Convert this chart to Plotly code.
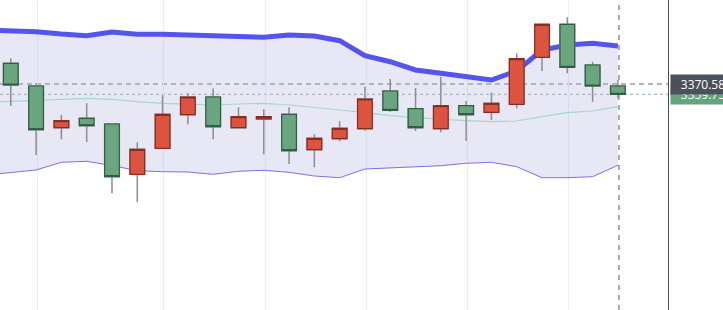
import plotly.graph_objects as go

# ---- data ----
idx = list(range(0, 25))
open_ = [3392.32, 3368.48, 3324.70, 3334.57, 3328.58, 3275.77, 3303.07, 3338.35, 3356.93, 3324.70,
         3333.83, 3338.77, 3301.60, 3313.15, 3323.65, 3363.23, 3344.65, 3323.65, 3347.80, 3340.87,
         3349.27, 3398.62, 3433.27, 3390.53, 3368.48]
high = [3397.57, 3371.32, 3338.03, 3350.32, 3329.00, 3309.37, 3358.72, 3360.82, 3366.07, 3346.12,
        3344.02, 3346.12, 3317.77, 3331.73, 3367.75, 3375.83, 3366.38, 3378.25, 3352.73, 3361.45,
        3402.82, 3434.32, 3440.62, 3394.00, 3374.78]
low = [3347.48, 3296.03, 3312.52, 3309.68, 3255.82, 3246.37, 3302.80, 3328.27, 3312.52, 3324.50,
       3296.77, 3286.58, 3283.12, 3310.42, 3321.55, 3341.50, 3321.23, 3319.87, 3310.73, 3332.78,
       3345.07, 3384.23, 3381.82, 3352.00, 3355.57]
close = [3369.53, 3322.60, 3332.05, 3326.80, 3273.25, 3302.02, 3338.77, 3356.93, 3325.75, 3336.25,
         3336.25, 3300.55, 3313.57, 3324.07, 3354.83, 3342.97, 3324.70, 3347.80, 3338.35, 3350.32,
         3397.15, 3433.27, 3388.12, 3368.48, 3359.75]

band_idx = list(range(-1, 25))
upper = [3427.28, 3426.76, 3425.50, 3423.08, 3421.30, 3425.18, 3422.77, 3422.77, 3421.72, 3420.67,
         3420.67, 3419.62, 3422.03, 3420.98, 3416.05, 3400.30, 3394.00, 3385.28, 3381.82, 3378.25,
         3374.78, 3384.23, 3406.28, 3411.53, 3413.32, 3410.48]
middle = [3351.16, 3352.42, 3353.78, 3354.83, 3355.57, 3354.52, 3352.00, 3350.32, 3349.27, 3348.53,
          3349.58, 3350.32, 3348.53, 3346.12, 3343.28, 3340.45, 3337.30, 3335.20, 3333.52, 3332.05,
          3331.00, 3331.73, 3336.25, 3340.45, 3342.23, 3346.75]
lower = [3275.03, 3277.66, 3280.28, 3288.37, 3289.42, 3285.01, 3279.55, 3278.50, 3278.18, 3275.77,
         3278.92, 3279.97, 3277.87, 3273.98, 3272.20, 3281.33, 3282.38, 3283.43, 3284.80, 3287.32,
         3288.37, 3283.75, 3272.20, 3272.20, 3273.25, 3285.22]

grid_idx = [1.05, 6.05, 10.05, 14.05, 18.05, 22.05]
cross_idx = 24.04
cross_price = 3370.58
last_price = 3359.75
cross_label = "3370.58"
last_label = "3359.75"

x_range = [-0.427, 25.98]
y_range = [3133.28, 3458.78]

# ---- figure ----
fig = go.Figure()

# Bollinger bands (base axes, drawn beneath candles)
fig.add_trace(go.Scatter(x=band_idx, y=lower, mode="lines",
                         line=dict(color="#7474ea", width=1), hoverinfo="skip",
                         xaxis="x", yaxis="y"))
fig.add_trace(go.Scatter(x=band_idx, y=upper, mode="lines", fill="tonexty",
                         fillcolor="rgba(175,175,222,0.30)",
                         line=dict(color="#5454ee", width=5), hoverinfo="skip",
                         xaxis="x", yaxis="y"))
fig.add_trace(go.Scatter(x=band_idx, y=middle, mode="lines",
                         line=dict(color="#9fdcc6", width=1.2), hoverinfo="skip",
                         xaxis="x", yaxis="y"))

# Wicks (gray)
fig.add_trace(go.Candlestick(x=idx, open=open_, high=high, low=low, close=close,
                             whiskerwidth=0,
                             increasing=dict(line=dict(color="#8e8e8e", width=1.5), fillcolor="#8e8e8e"),
                             decreasing=dict(line=dict(color="#8e8e8e", width=1.5), fillcolor="#8e8e8e"),
                             hoverinfo="skip", xaxis="x2", yaxis="y2"))
# Bodies
body_hi = [max(o, c) for o, c in zip(open_, close)]
body_lo = [min(o, c) for o, c in zip(open_, close)]
fig.add_trace(go.Candlestick(x=idx, open=open_, high=body_hi, low=body_lo, close=close,
                             whiskerwidth=0,
                             increasing=dict(line=dict(color="#8a2c20", width=1.2), fillcolor="#dc5440"),
                             decreasing=dict(line=dict(color="#2f5f40", width=1.2), fillcolor="#69a67f"),
                             hoverinfo="skip", xaxis="x2", yaxis="y2"))

shapes = [
    dict(type="line", xref="paper", x0=0, x1=1, yref="y", y0=cross_price, y1=cross_price,
         line=dict(color="#9a9a9a", width=1.5, dash="5px,4px"), layer="below"),
    dict(type="line", xref="paper", x0=0, x1=1, yref="y", y0=last_price, y1=last_price,
         line=dict(color="rgba(110,165,130,0.8)", width=1, dash="dot"), layer="below"),
    dict(type="line", xref="x", x0=cross_idx, x1=cross_idx, yref="paper", y0=0, y1=1,
         line=dict(color="#8a919c", width=1.5, dash="5px,5px"), layer="below"),
]

annotations = [
    dict(x=1, xref="paper", xanchor="left", xshift=2, y=last_price, yref="y", yanchor="middle",
         text=last_label, showarrow=False, bgcolor="#66a47b", borderpad=1, width=62,
         font=dict(color="white", size=12, family="Open Sans")),
    dict(x=1, xref="paper", xanchor="left", xshift=2, y=cross_price, yref="y", yanchor="middle",
         text=cross_label, showarrow=False, bgcolor="#4b505c", borderpad=1, width=62,
         font=dict(color="white", size=12, family="Open Sans")),
]

fig.update_layout(
    width=723, height=310,
    margin=dict(l=0, r=55, t=0, b=0, pad=0),
    paper_bgcolor="white", plot_bgcolor="white",
    showlegend=False,
    boxgap=0.42, boxgroupgap=0,
    xaxis=dict(range=x_range, tickvals=grid_idx, showticklabels=False, ticks="",
               showgrid=True, gridcolor="#e8eef3", gridwidth=1, zeroline=False,
               showline=False, rangeslider=dict(visible=False), fixedrange=True),
    yaxis=dict(range=y_range, side="right", showticklabels=False, ticks="",
               showgrid=False, zeroline=False, showline=True, linecolor="#4d4d4d", linewidth=1),
    xaxis2=dict(range=x_range, overlaying="x", visible=False, showgrid=False,
                rangeslider=dict(visible=False)),
    yaxis2=dict(range=y_range, overlaying="y", side="right", visible=False, showgrid=False),
    shapes=shapes,
    annotations=annotations,
)

fig.write_html("out.html")
